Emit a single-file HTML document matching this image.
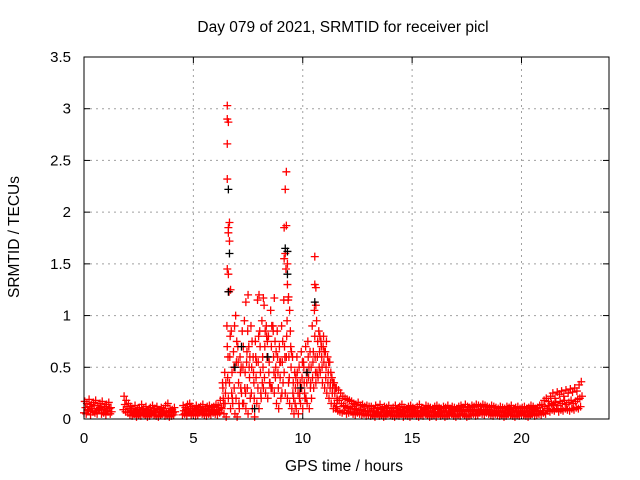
<!DOCTYPE html>
<html><head><meta charset="utf-8"><style>
html,body{margin:0;padding:0;background:#fff}
svg{display:block;font-family:"Liberation Sans",sans-serif}
</style></head><body>
<svg id="chart" width="640" height="480" viewBox="0 0 640 480">
<rect width="640" height="480" fill="#fff"/>
<text x="343" y="32" text-anchor="middle" font-size="15.5">Day 079 of 2021, SRMTID for receiver picl</text>
<text x="344" y="471" text-anchor="middle" font-size="15.5">GPS time / hours</text>
<text transform="translate(19,237) rotate(-90)" text-anchor="middle" font-size="15.5">SRMTID / TECUs</text>
<g id="grid"></g>
<g id="ticks"></g>
<g id="red"></g>
<g id="black"></g>
<rect x="84" y="57" width="525" height="362" fill="none" stroke="#000" stroke-width="1"/>
</svg>
<script>
const xTicks=[0,5,10,15,20];
const yTicks=[0,0.5,1,1.5,2,2.5,3,3.5];
const yTickLabels=["0","0.5","1","1.5","2","2.5","3","3.5"];
const tStart=0, tStep=0.1, activeStart=6.3;
const seriesA=[.06,.05,.08,.04,.07,.06,.05,.09,.05,.06,.04,.07,.05,
null,null,null,null,null,
.09,.07,.06,
.04,.03,.05,.02,.04,.03,.05,.04,.02,.03,.05,.04,.03,.02,.04,.05,.03,.04,.02,.03,.04,
null,null,null,
.04,.05,.03,.06,.04,.05,.03,.04,.06,.05,.04,.03,.05,.04,.06,.05,.04,.06,
.1,.05,.02,.2,.1,.15,.05,.02,.1,.25,.15,.1,.05,.2,.1,.02,.15,.1,.2,.3,.25,.2,.35,.3,.25,.15,.1,.2,.35,.25,.2,.15,.1,.05,.1,.05,.15,.1,.2,.15,.1,.2,.3,.35,.4,.45,.35,.3,.25,.2,.15,.1,.1,
.08,.07,.06,.08,.05,.06,.07,.05,.04,.06,.05,.04,.05,.03,.04,
.03,.04,.02,.05,.03,.04,.02,.03,.05,.04,.03,.02,.04,.03,.05,.02,.04,.03,.02,.04,.05,.03,.02,.04,.03,.05,.04,.02,.03,.04,.02,.05,.03,.04,.02,.03,.04,.05,.03,.02,.04,.03,.05,.04,.02,.03,.04,.05,.03,.04,.06,.05,.04,.06,.05,.04,.03,.05,.04,.03,.04,.02,.03,.05,.04,.03,.02,.04,.03,.05,.04,.03,.02,.04,.05,.03,.04,.05,.04,
.06,.05,.08,.07,.09,.08,.1,.07,.09,.08,.1,.09,.08,.1,.09,.11,.1,.12];
const seriesB=[.17,.15,.19,.14,.16,.18,.13,.15,.17,.12,.14,.16,.11,
null,null,null,null,null,
.22,.18,.15,
.12,.10,.13,.09,.11,.14,.10,.12,.09,.11,.13,.10,.12,.09,.11,.10,.13,.15,.10,.09,.11,
null,null,null,
.13,.11,.14,.15,.12,.10,.13,.11,.12,.14,.10,.12,.13,.11,.12,.14,.13,.18,
.35,.45,.9,1.23,.85,.65,1.0,.7,.6,.85,.95,.55,.7,.9,.6,.75,1.15,.85,.95,1.1,.9,.8,1.05,.9,.75,.85,.7,.9,1.15,1.45,1.15,.85,.6,.45,.6,.5,.65,.55,.7,.75,.65,.9,1.05,.95,.85,.75,.7,.65,.6,.55,.4,.35,.3,
.28,.25,.22,.2,.19,.18,.17,.15,.14,.16,.13,.14,.12,.13,.12,
.12,.10,.13,.11,.14,.10,.12,.11,.13,.10,.11,.13,.10,.12,.14,.11,.10,.12,.13,.11,.10,.12,.14,.11,.10,.13,.12,.11,.10,.12,.13,.11,.10,.12,.11,.13,.10,.12,.11,.10,.12,.13,.11,.14,.12,.11,.13,.12,.14,.13,.12,.14,.13,.12,.11,.13,.12,.11,.10,.12,.11,.10,.12,.11,.13,.10,.11,.12,.10,.11,.12,.10,.11,.13,.12,.10,.11,.13,.14,
.18,.2,.17,.22,.25,.2,.26,.24,.27,.22,.28,.25,.29,.26,.3,.27,.33,.36];
const seriesC=[.11,.09,.12,.10,.13,.08,.10,.11,.09,.12,.08,.10,.07,
null,null,null,null,null,
.14,.12,.1,
.08,.07,.06,.08,.07,.09,.06,.08,.07,.06,.08,.07,.09,.06,.07,.08,.06,.07,.08,.06,.07,
null,null,null,
.08,.09,.07,.10,.08,.07,.09,.08,.07,.09,.08,.07,.08,.09,.07,.08,.09,.11,
.2,.25,.4,.6,.45,.3,.55,.35,.3,.5,.45,.3,.4,.5,.35,.4,.55,.45,.6,.7,.6,.55,.7,.6,.5,.45,.4,.55,.7,.8,.6,.5,.35,.3,.35,.25,.4,.35,.45,.4,.35,.55,.6,.6,.65,.6,.55,.5,.45,.35,.3,.25,.2,
.18,.15,.13,.12,.11,.1,.12,.1,.09,.08,.09,.08,.07,.08,.07,
.07,.08,.06,.07,.09,.06,.08,.07,.06,.08,.07,.06,.08,.09,.07,.06,.08,.07,.09,.06,.08,.07,.06,.08,.09,.07,.06,.08,.07,.06,.09,.07,.08,.06,.07,.08,.06,.09,.07,.08,.08,.09,.07,.08,.09,.07,.08,.09,.08,.07,.09,.08,.07,.09,.08,.06,.07,.08,.06,.07,.08,.06,.07,.09,.08,.06,.07,.08,.06,.07,.08,.07,.06,.08,.09,.07,.08,.07,.08,
.12,.1,.13,.15,.14,.16,.13,.17,.15,.18,.14,.16,.18,.15,.17,.19,.2,.22];
const activeD=[.3,.15,.7,.35,.25,.5,.2,.55,.45,.15,.3,.65,.5,.25,.45,.6,.3,.7,.35,.4,.8,.45,.3,.85,.4,.6,.55,.25,.45,.6,.35,.7,.25,.15,.45,.2,.3,.5,.2,.6,.3,.4,.8,.45,.5,.7,.8,.4,.35,.3,.25,.15,.12];
const activeE=[.15,.35,.6,.8,.2,.9,.75,.15,.5,.7,.25,.85,.6,.75,.2,.55,.8,.25,.5,.85,.75,.35,.9,.45,.65,.3,.55,.75,.6,.95,.4,.65,.2,.4,.25,.35,.55,.25,.35,.5,.5,.65,.45,.75,.8,.5,.65,.75,.55,.45,.35,.3,.18];
const spikeTimes=[6.55,6.55,6.6,6.55,6.55,6.6,6.6,6.65,6.65,6.55,6.6,6.7,9.25,9.2,9.25,9.15,9.2,9.15,9.3,9.3,9.35,9.4,10.55,10.55,10.6,10.6,8.2,8.0,7.5,7.4,8.7];
const spikeValues=[3.03,2.9,2.87,2.66,2.32,1.85,1.8,1.9,1.72,1.45,1.4,1.25,2.39,2.22,1.87,1.85,1.6,1.55,1.5,1.3,1.18,1.05,1.57,1.3,1.27,1.1,1.17,1.2,1.2,1.13,1.17];
const blackTimes=[6.6,6.65,6.6,9.2,9.3,9.3,10.55,7.2,8.4,9.9,7.8,6.9,10.2];
const blackValues=[2.22,1.6,1.23,1.65,1.62,1.4,1.13,0.7,0.6,0.3,0.1,0.5,0.45];

const X0=84,X1=609,Y0=419,Y1=57,XMAX=24,YMAX=3.5;
const xs=t=>X0+(t/XMAX)*(X1-X0);
const ys=v=>Y0-(v/YMAX)*(Y0-Y1);
const NS="http://www.w3.org/2000/svg";
const grid=document.getElementById('grid'),ticks=document.getElementById('ticks');
function mk(tag,attrs,parent){const e=document.createElementNS(NS,tag);for(const k in attrs)e.setAttribute(k,attrs[k]);parent.appendChild(e);return e;}
xTicks.forEach(t=>{
  const x=xs(t);
  if(t>0){const g=mk('line',{x1:x,x2:x,y1:Y1,y2:Y0,stroke:'#a0a0a0','stroke-dasharray':'2,4'},grid);
  
  }
  mk('line',{x1:x,x2:x,y1:Y0,y2:Y0-6,stroke:'#000'},ticks);
  mk('line',{x1:x,x2:x,y1:Y1,y2:Y1+6,stroke:'#000'},ticks);
  const l=mk('text',{x:x,y:Y0+24,'text-anchor':'middle','font-size':15},ticks);
  l.textContent=String(t);
  
  
});
yTicks.forEach((v,i)=>{
  const y=ys(v);
  if(v>0&&v<YMAX){const g=mk('line',{x1:X0,x2:X1,y1:y,y2:y,stroke:'#a0a0a0','stroke-dasharray':'2,4'},grid);
  
  }
  mk('line',{x1:X0,x2:X0+6,y1:y,y2:y,stroke:'#000'},ticks);
  mk('line',{x1:X1,x2:X1-6,y1:y,y2:y,stroke:'#000'},ticks);
  const l=mk('text',{x:X0-13,y:y+5,'text-anchor':'end','font-size':15},ticks);
  l.textContent=yTickLabels[i];
  
  
});
function plus(g,t,v,col){
  const x=xs(t),y=ys(v);
  const p=mk('path',{d:`M${x-4},${y}H${x+4}M${x},${y-4}V${y+4}`,stroke:col,'stroke-width':1.3,fill:'none'},g);
  
  
}
const red=document.getElementById('red'),black=document.getElementById('black');
[[seriesA,0],[seriesB,0.033],[seriesC,0.066]].forEach(([arr,off])=>{
  arr.forEach((v,i)=>{if(v!==null&&v!==undefined)plus(red,tStart+i*tStep+off,v,'#ff0000');});
});
[[activeD,0.05],[activeE,0.083]].forEach(([arr,off])=>{
  arr.forEach((v,i)=>plus(red,activeStart+i*tStep+off,v,'#ff0000'));
});
spikeTimes.forEach((t,i)=>plus(red,t,spikeValues[i],'#ff0000'));
blackTimes.forEach((t,i)=>plus(black,t,blackValues[i],'#000000'));
</script>
</body></html>
